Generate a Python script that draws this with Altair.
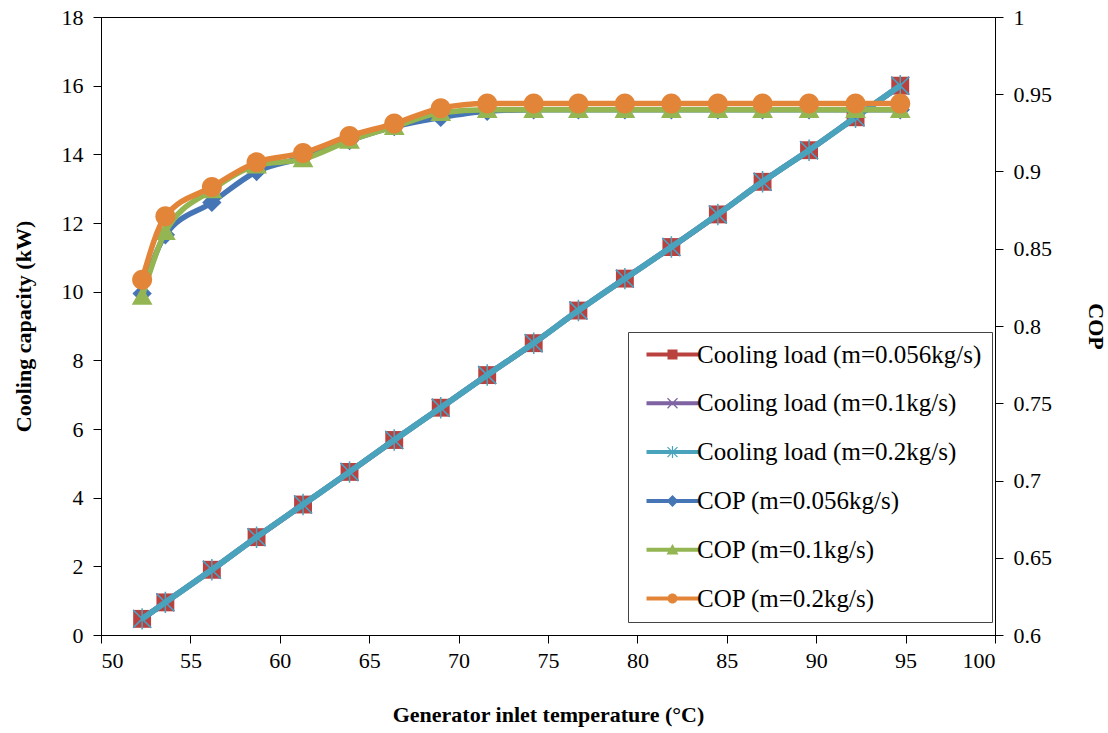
import altair as alt
import pandas as pd

# ---------------- data ----------------
temperature = [52.3, 53.6, 56.2, 58.7, 61.3, 63.9, 66.4, 69.0, 71.6,
               74.2, 76.7, 79.3, 81.9, 84.5, 87.0, 89.6, 92.2, 94.7]
load_056 = [0.47, 0.95, 1.90, 2.85, 3.80, 4.75, 5.68, 6.62, 7.57,
            8.50, 9.45, 10.38, 11.30, 12.25, 13.20, 14.12, 15.08, 16.00]
load_01 = [0.47, 0.95, 1.90, 2.85, 3.80, 4.75, 5.68, 6.62, 7.57,
           8.50, 9.45, 10.38, 11.30, 12.25, 13.20, 14.12, 15.08, 16.00]
load_02 = [0.47, 0.95, 1.90, 2.85, 3.80, 4.75, 5.68, 6.62, 7.57,
           8.50, 9.45, 10.38, 11.30, 12.25, 13.20, 14.12, 15.08, 16.00]
cop_056 = [0.821, 0.859, 0.880, 0.900, 0.909, 0.920, 0.929, 0.935, 0.939,
           0.940, 0.940, 0.940, 0.940, 0.940, 0.940, 0.940, 0.940, 0.940]
cop_01 = [0.819, 0.861, 0.888, 0.904, 0.908, 0.920, 0.929, 0.938, 0.940,
          0.940, 0.940, 0.940, 0.940, 0.940, 0.940, 0.940, 0.940, 0.940]
cop_02 = [0.830, 0.871, 0.890, 0.906, 0.912, 0.923, 0.931, 0.941, 0.944,
          0.944, 0.944, 0.944, 0.944, 0.944, 0.944, 0.944, 0.944, 0.944]

series_names = [
    "Cooling load (m=0.056kg/s)",
    "Cooling load (m=0.1kg/s)",
    "Cooling load (m=0.2kg/s)",
    "COP (m=0.056kg/s)",
    "COP (m=0.1kg/s)",
    "COP (m=0.2kg/s)",
]
series_values = [load_056, load_01, load_02, cop_056, cop_01, cop_02]
series_colors = ["#B9423F", "#7E62A1", "#4AA3BD", "#4575B5", "#93B552", "#E38539"]

x_ticks = [50, 55, 60, 65, 70, 75, 80, 85, 90, 95, 100]
left_ticks = [0, 2, 4, 6, 8, 10, 12, 14, 16, 18]
right_ticks = [0.6, 0.65, 0.7, 0.75, 0.8, 0.85, 0.9, 0.95, 1.0]

rows = []
for name, vals in zip(series_names, series_values):
    for t, v in zip(temperature, vals):
        rows.append({"T": t, "value": v, "series": name})
df = pd.DataFrame(rows)

# ---------------- marker shapes (filled polygons) ----------------
SQUARE = "M-1,-1V1H1V-1Z"
DIAMOND = "M0,-1.2L-1.2,0L0,1.2L1.2,0Z"
TRIANGLE = "M0,-1.15L-1.2,0.95L1.2,0.95Z"
CIRCLE = "M0,-1A1,1 0 0,0 0,1A1,1 0 0,0 0,-1Z"
XMARK_STROKE = "M-1,-1L1,1M-1,1L1,-1"
STAR_STROKE = "M-1,-1L1,1M-1,1L1,-1M0,-1.2L0,1.2"
XMARK_FILL = ("M-1.085,-0.915L0.915,1.085L1.085,0.915L-0.915,-1.085Z"
              "M-0.915,1.085L1.085,-0.915L0.915,-1.085L-1.085,0.915Z")
VBAR_FILL = "M-0.12,-1.2V1.2H0.12V-1.2Z"
LEGEND_LINE = "M-5.2,-0.4V0.4H5.2V-0.4Z"

legend_shapes = [
    LEGEND_LINE + SQUARE,
    LEGEND_LINE + XMARK_FILL,
    LEGEND_LINE + XMARK_FILL + VBAR_FILL,
    LEGEND_LINE + DIAMOND,
    LEGEND_LINE + TRIANGLE,
    LEGEND_LINE + CIRCLE,
]

FONT = "Liberation Serif, DejaVu Serif, serif"

x_enc = alt.X(
    "T:Q",
    scale=alt.Scale(domain=[50, 100], nice=False, zero=False),
    axis=alt.Axis(
        values=x_ticks, title="Generator inlet temperature (°C)",
        labelFontSize=22, titleFontSize=22, titleFontWeight="bold",
        labelPadding=7, titlePadding=33, tickSize=8,
    ),
)
y_left = alt.Y(
    "value:Q",
    scale=alt.Scale(domain=[0, 18], nice=False),
    axis=alt.Axis(
        values=left_ticks, title="Cooling capacity (kW)", orient="left",
        labelFontSize=22, titleFontSize=22, titleFontWeight="bold",
        labelPadding=10, titlePadding=26, tickSize=8,
    ),
)
y_right = alt.Y(
    "value:Q",
    scale=alt.Scale(domain=[0.6, 1.0], nice=False, zero=False),
    axis=alt.Axis(
        values=right_ticks, format="~g", title="COP", orient="right",
        labelFontSize=22, titleFontSize=22, titleFontWeight="bold",
        labelPadding=10, titlePadding=32, tickSize=8,
    ),
)


def series_layers(idx, y_enc, width, shape, filled, msize, mstroke=None):
    name = series_names[idx]
    color = series_colors[idx]
    base = alt.Chart(df).transform_filter(alt.datum.series == name)
    line = base.mark_line(color=color, strokeWidth=width,
                          interpolate="monotone").encode(x=x_enc, y=y_enc)
    if filled:
        pts = base.mark_point(shape=shape, filled=True, color=color,
                              size=msize, opacity=1, strokeWidth=0)
    else:
        pts = base.mark_point(shape=shape, filled=False, color=color,
                              size=msize, opacity=1, strokeWidth=mstroke)
    pts = pts.encode(x=x_enc, y=y_enc)
    return [line, pts]


legend_def = alt.Legend(
    title=None, orient="none", legendX=527, legendY=315,
    padding=10, strokeColor="#444444", fillColor="white",
    labelFont=FONT, labelFontSize=25, labelColor="black", labelLimit=500,
    symbolSize=100, symbolOffset=22, labelOffset=12, rowPadding=22.8,
    symbolStrokeWidth=0, symbolOpacity=1,
)

legend_layer = alt.Chart(df).transform_filter("false").mark_point(
    filled=True, opacity=1, size=100
).encode(
    x=x_enc,
    y=y_left,
    color=alt.Color("series:N", scale=alt.Scale(domain=series_names, range=series_colors),
                    legend=legend_def),
    shape=alt.Shape("series:N", scale=alt.Scale(domain=series_names, range=legend_shapes),
                    legend=legend_def),
)

left_layers = []
left_layers += series_layers(0, y_left, 5.5, SQUARE, True, 320)
left_layers += series_layers(1, y_left, 5.5, XMARK_STROKE, False, 320, 1.5)
left_layers += series_layers(2, y_left, 6, STAR_STROKE, False, 320, 1.5)
left_layers.append(legend_layer)
left = alt.layer(*left_layers)

right_layers = []
right_layers += series_layers(3, y_right, 5.5, DIAMOND, True, 260)
right_layers += series_layers(4, y_right, 5.5, TRIANGLE, True, 300)
right_layers += series_layers(5, y_right, 5.5, CIRCLE, True, 400)
right = alt.layer(*right_layers)

chart = alt.layer(left, right).resolve_scale(y="independent").properties(
    width=894, height=618,
    autosize=alt.AutoSizeParams(type="none"),
    padding={"left": 101, "top": 17, "right": 113, "bottom": 98},
    background="white",
).configure_view(
    stroke="black", strokeWidth=1
).configure_axis(
    grid=False, domainColor="black", tickColor="black", labelColor="black",
    titleColor="black", labelFont=FONT, titleFont=FONT, domainWidth=1,
)

chart.save("out.html", embed_options={"renderer": "svg", "actions": False})
